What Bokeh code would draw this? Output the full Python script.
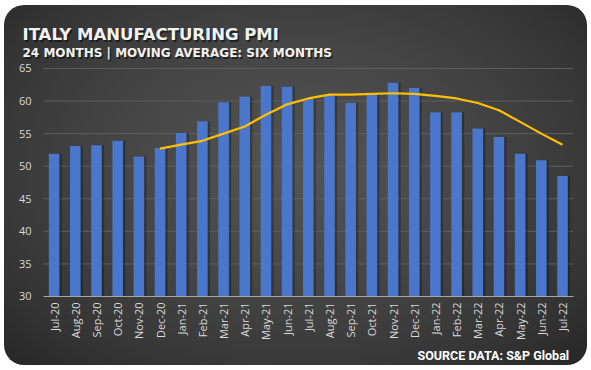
import math
from bokeh.plotting import figure
from bokeh.models import ColumnDataSource, Label, Range1d, FixedTicker
from bokeh.transform import dodge
from bokeh.embed import file_html
from bokeh.resources import INLINE

months = ["Jul-20", "Aug-20", "Sep-20", "Oct-20", "Nov-20", "Dec-20",
          "Jan-21", "Feb-21", "Mar-21", "Apr-21", "May-21", "Jun-21",
          "Jul-21", "Aug-21", "Sep-21", "Oct-21", "Nov-21", "Dec-21",
          "Jan-22", "Feb-22", "Mar-22", "Apr-22", "May-22", "Jun-22", "Jul-22"]
pmi = [51.9, 53.1, 53.2, 53.9, 51.5, 52.8,
       55.1, 56.9, 59.8, 60.7, 62.3, 62.2,
       60.3, 60.9, 59.7, 61.1, 62.8, 62.0,
       58.3, 58.3, 55.8, 54.5, 51.9, 50.9, 48.5]
ma_months = months[5:]
ma_values = [52.7, 53.3, 53.9, 55.0, 56.1, 57.9, 59.5,
             60.4, 61.0, 61.0, 61.1, 61.2, 61.1,
             60.8, 60.4, 59.7, 58.6, 56.8, 55.0, 53.3]
y_ticks = [30, 35, 40, 45, 50, 55, 60, 65]

idx = list(range(len(months)))
bars = ColumnDataSource(dict(x=idx, month=months, pmi=pmi))
ma = ColumnDataSource(dict(x=[months.index(m) for m in ma_months], ma=ma_values))
grid = ColumnDataSource(dict(y=y_ticks[1:]))

# the frame spans the whole card; room above 65 holds the titles, room below 30 the labels
p = figure(width=583, height=360, x_range=Range1d(-2.343, 25.18),
           y_range=Range1d(19.405, 74.67), output_backend="svg", toolbar_location=None,
           min_border_left=0, min_border_right=0, min_border_top=0,
           min_border_bottom=0)
p.background_fill_alpha = 0
p.border_fill_alpha = 0
p.outline_line_color = None
p.styles = {
    "background": "radial-gradient(ellipse at 50% 45%, #555555 0%, #454545 45%, #343434 80%, #262626 100%)",
    "border-radius": "20px",
    "overflow": "hidden",
    "margin-left": "4px",
    "margin-top": "5px",
}
p.xgrid.visible = False
p.ygrid.visible = False

# horizontal grid lines across the plot area
p.segment(x0=-0.5, x1=len(months) - 0.5, y0="y", y1="y", source=grid,
          line_color="#5e5e5e", line_width=1)

# shadows and bars
p.vbar(x=dodge("x", 0.1), top="pmi", bottom=30, width=0.52,
       source=bars, fill_color="black", fill_alpha=0.28, line_color=None)
p.vbar(x="x", top="pmi", bottom=30, width=0.5, source=bars,
       fill_color="#4a76cb", line_color=None)
p.line(x="x", y="ma", source=ma, line_color="#ffc000", line_width=2.2)

ya = p.yaxis[0]
ya.fixed_location = -0.5
ya.ticker = FixedTicker(ticks=y_ticks)
ya.axis_line_color = None
ya.major_tick_line_color = None
ya.minor_tick_line_color = None
ya.major_tick_out = 0
ya.major_tick_in = 0
ya.major_label_standoff = 12
ya.major_label_text_color = "#d9d9d9"
ya.major_label_text_font = "Open Sans"
ya.major_label_text_font_size = "11px"

xa = p.xaxis[0]
xa.fixed_location = 30
xa.ticker = FixedTicker(ticks=idx)
xa.major_label_overrides = {i: m for i, m in zip(idx, months)}
xa.bounds = (-0.5, len(months) - 0.5)
xa.axis_line_color = "#a6a6a6"
xa.axis_line_width = 1
xa.major_tick_line_color = None
xa.minor_tick_line_color = None
xa.major_tick_out = 0
xa.major_tick_in = 0
xa.axis_label_standoff = 0
xa.major_label_orientation = math.pi / 2
xa.major_label_standoff = 6
xa.major_label_text_color = "#d9d9d9"
xa.major_label_text_font = "Open Sans"
xa.major_label_text_font_size = "11px"

def add_text(txt, x, y, size):
    p.add_layout(Label(x=x + 1.5, y=y - 1.5, x_units="screen", y_units="screen",
                       text=txt, text_font="DejaVu Sans", text_font_style="bold",
                       text_font_size=size, text_color="black", text_alpha=0.5,
                       text_align="left", text_baseline="alphabetic"))
    p.add_layout(Label(x=x, y=y, x_units="screen", y_units="screen",
                       text=txt, text_font="DejaVu Sans", text_font_style="bold",
                       text_font_size=size, text_color="#f2f2f2",
                       text_align="left", text_baseline="alphabetic"))

add_text("ITALY MANUFACTURING PMI", 18, 330.7, "16.5px")
add_text("24 MONTHS | MOVING AVERAGE: SIX MONTHS", 18, 312.3, "12px")

p.add_layout(Label(x=413, y=10, x_units="screen", y_units="screen",
                   text="SOURCE DATA: S&P Global", text_font="Roboto",
                   text_font_style="bold", text_font_size="12.5px",
                   text_color="white", text_align="left",
                   text_baseline="alphabetic"))

open("out.html", "w").write(file_html(p, INLINE))
